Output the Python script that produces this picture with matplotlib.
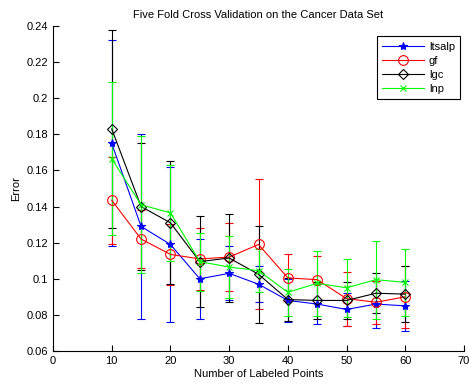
import matplotlib
matplotlib.use("Agg")
import matplotlib.pyplot as plt
from matplotlib.lines import Line2D
import numpy as np

plt.rcParams['font.family'] = ['Liberation Sans', 'DejaVu Sans']

x = [10, 15, 20, 25, 30, 35, 40, 45, 50, 55, 60]

ltsalp = [0.175, 0.129, 0.119, 0.100, 0.103, 0.097, 0.088, 0.086, 0.083, 0.086, 0.085]
ltsalp_err = [0.057, 0.051, 0.043, 0.022, 0.015, 0.010, 0.012, 0.011, 0.009, 0.013, 0.014]

gf = [0.1435, 0.122, 0.1135, 0.111, 0.112, 0.119, 0.1005, 0.0995, 0.089, 0.087, 0.090]
gf_err = [0.024, 0.016, 0.017, 0.017, 0.019, 0.036, 0.013, 0.013, 0.015, 0.012, 0.017]

lgc = [0.183, 0.140, 0.131, 0.1095, 0.1115, 0.1025, 0.0885, 0.088, 0.088, 0.092, 0.0915]
lgc_err = [0.055, 0.035, 0.034, 0.025, 0.0245, 0.027, 0.012, 0.010, 0.010, 0.011, 0.0155]

lnp = [0.1665, 0.141, 0.1365, 0.1095, 0.1065, 0.1045, 0.0925, 0.0975, 0.095, 0.0995, 0.098]
lnp_err = [0.0425, 0.038, 0.0265, 0.016, 0.017, 0.012, 0.013, 0.018, 0.016, 0.0215, 0.0185]

series = [
    ("ltsalp", ltsalp, ltsalp_err, "#0000ff", "*", 6),
    ("gf", gf, gf_err, "#ff0000", "o", 7),
    ("lgc", lgc, lgc_err, "#000000", "D", 5),
    ("lnp", lnp, lnp_err, "#00ff00", "x", 5),
]

fig = plt.figure(figsize=(4.69, 3.85), dpi=100)
ax = fig.add_axes([53/469, 1-351/385, (464-53)/469, (351-26)/385])

handles = []
for name, vals, err, col, mk, ms in series:
    fc = 'none' if mk in ('o', 'D') else col
    ax.errorbar(x, vals, yerr=err, color=col, marker=mk, markersize=ms,
                markerfacecolor=fc, markeredgecolor=col, markeredgewidth=0.8,
                linewidth=0.8, elinewidth=0.8, capsize=3, capthick=0.8)
    handles.append(Line2D([], [], color=col, marker=mk, markersize=ms,
                          markerfacecolor=fc, markeredgecolor=col,
                          markeredgewidth=0.8, linewidth=0.8, label=name))

ax.set_xlim(0, 70)
ax.set_ylim(0.06, 0.24)
ax.set_xticks(range(0, 71, 10))
yt = [0.06, 0.08, 0.1, 0.12, 0.14, 0.16, 0.18, 0.2, 0.22, 0.24]
ax.set_yticks(yt)
ax.set_yticklabels(["0.06", "0.08", "0.1", "0.12", "0.14", "0.16", "0.18", "0.2", "0.22", "0.24"])
ax.tick_params(direction='in', labelsize=8, length=4, width=0.8)
for s in ['top', 'right']:
    ax.spines[s].set_visible(False)
for s in ['left', 'bottom']:
    ax.spines[s].set_linewidth(0.8)

ax.set_title("Five Fold Cross Validation on the Cancer Data Set", fontsize=8)
ax.set_xlabel("Number of Labeled Points", fontsize=8, labelpad=2)
ax.set_ylabel("Error", fontsize=8)

leg = ax.legend(handles=handles, loc='upper right', bbox_to_anchor=(1.005, 0.985),
                fontsize=8, fancybox=False, edgecolor='black', framealpha=1,
                handlelength=3.8, borderpad=0.5, labelspacing=0.35, handletextpad=0.4)
leg.get_frame().set_linewidth(0.8)

fig.savefig("out.png", dpi=100)
